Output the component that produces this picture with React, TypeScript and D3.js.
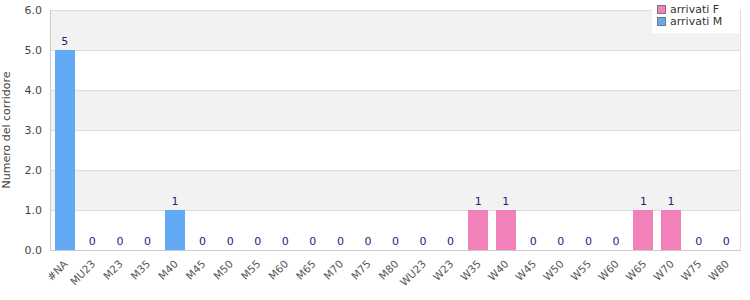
import React from "react";
import * as d3 from "d3";

const categories = ["#NA","MU23","M23","M35","M40","M45","M50","M55","M60","M65","M70","M75","M80","WU23","W23","W35","W40","W45","W50","W55","W60","W65","W70","W75","W80"];
const valuesM = [5,0,0,0,1,0,0,0,0,0,0,0,0,null,null,null,null,null,null,null,null,null,null,null,null];
const valuesF = [null,null,null,null,null,null,null,null,null,null,null,null,null,0,0,1,1,0,0,0,0,1,1,0,0];
const yTicks = [0,1,2,3,4,5,6];
const seriesNames = ["arrivati F","arrivati M"];

const W = 750, H = 300;
const L = 51, R = 740, T = 10, B = 250;
const colorM = "#62a9f5";
const colorF = "#f280b9";

export default function App() {
  const x = d3.scaleBand<string>().domain(categories).range([L, R]).paddingInner(0.27).paddingOuter(0.135);
  const y = d3.scaleLinear().domain([0, 6]).range([B, T]);
  const bars = categories.map((c, i) => {
    const m = valuesM[i];
    const f = valuesF[i];
    const v = (m ?? f) as number;
    const color = m != null ? colorM : colorF;
    return { c, v, color };
  });
  return (
    <svg width={W} height={H} style={{ position: "absolute", left: 0, top: 0, fontFamily: "DejaVu Sans, sans-serif" }}>
      <rect x={0} y={0} width={W} height={H} fill="#fff" />
      {yTicks.slice(0, -1).filter((t) => t % 2 === 1).map((t) => (
        <rect key={"g" + t} x={L} y={y(t + 1)} width={R - L} height={y(t) - y(t + 1)} fill="#f2f2f2" />
      ))}
      {yTicks.map((t) => (
        <line key={"gl" + t} x1={L} x2={R} y1={y(t) + 0.5} y2={y(t) + 0.5} stroke="#dddddd" strokeWidth={1} />
      ))}
      <line x1={L - 0.5} x2={L - 0.5} y1={T} y2={B + 1} stroke="#cccccc" />
      <line x1={R + 0.5} x2={R + 0.5} y1={T} y2={B + 1} stroke="#dddddd" />
      <line x1={L - 0.5} x2={R + 0.5} y1={B + 0.5} y2={B + 0.5} stroke="#cccccc" />
      {yTicks.map((t) => (
        <text key={"yt" + t} x={42} y={y(t) + 4} textAnchor="end" fontSize={11} fill="#444">{t.toFixed(1)}</text>
      ))}
      <text transform={`translate(6,${(T + B) / 2}) rotate(-90)`} textAnchor="middle" fontSize={11} fill="#444" dy="0.35em">Numero del corridore</text>
      {bars.map((b) => (
        <rect key={"b" + b.c} x={Math.round(x(b.c)!)} y={y(b.v)} width={Math.round(x.bandwidth())} height={B - y(b.v)} fill={b.color} />
      ))}
      {bars.map((b) => (
        <text key={"v" + b.c} x={x(b.c)! + x.bandwidth() / 2} y={y(b.v) - 5} textAnchor="middle" fontSize={11} fill="#1a237e">{b.v}</text>
      ))}
      {categories.map((c) => (
        <text key={"xl" + c} transform={`translate(${x(c)! + x.bandwidth() / 2 + 1},${B + 12}) rotate(-45)`} textAnchor="end" fontSize={10.5} fill="#555" dy="0.35em">{c}</text>
      ))}
      <rect x={652} y={0} width={88} height={33} fill="#fff" />
      {seriesNames.map((s, i) => (
        <g key={"lg" + s}>
          <rect x={657.5} y={5.5 + i * 12} width={8} height={8} fill={i === 0 ? colorF : colorM} stroke="#777" strokeWidth={1} />
          <text x={670} y={13 + i * 12} fontSize={11} fill="#333">{s}</text>
        </g>
      ))}
    </svg>
  );
}
